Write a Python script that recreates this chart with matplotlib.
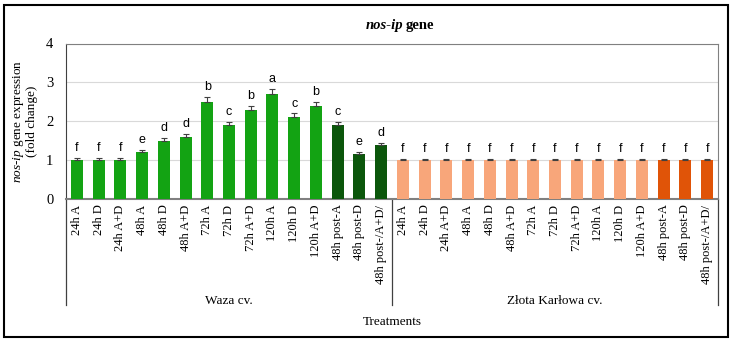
import numpy as np
import matplotlib.pyplot as plt
from matplotlib.patches import Rectangle
import matplotlib.transforms as mtransforms

plt.rcParams['font.family'] = 'Liberation Serif'
plt.rcParams['mathtext.fontset'] = 'custom'
plt.rcParams['mathtext.rm'] = 'Liberation Serif'
plt.rcParams['mathtext.it'] = 'Liberation Serif:italic'
plt.rcParams['mathtext.bf'] = 'Liberation Serif:bold'

# data
treatments = ['24h A', '24h D', '24h A+D', '48h A', '48h D', '48h A+D',
              '72h A', '72h D', '72h A+D', '120h A', '120h D', '120h A+D',
              '48h post-A', '48h post-D', '48h post-/A+D/']
waza_vals = [1.0, 1.0, 1.0, 1.2, 1.5, 1.6, 2.5, 1.9, 2.3, 2.7, 2.1, 2.4, 1.9, 1.15, 1.4]
waza_err = [0.05, 0.05, 0.05, 0.07, 0.07, 0.08, 0.12, 0.08, 0.1, 0.12, 0.1, 0.1, 0.08, 0.05, 0.05]
waza_letters = ['f', 'f', 'f', 'e', 'd', 'd', 'b', 'c', 'b', 'a', 'c', 'b', 'c', 'e', 'd']
zlota_vals = [1.0] * 15
zlota_err = [0.04] * 15
zlota_letters = ['f'] * 15
groups = ['Waza cv.', 'Złota Karłowa cv.']

c_green, c_dgreen = '#13a313', '#0b560b'
c_lorange, c_dorange = '#f8a67a', '#e05408'
colors = [c_green] * 12 + [c_dgreen] * 3 + [c_lorange] * 12 + [c_dorange] * 3

vals = waza_vals + zlota_vals
errs = waza_err + zlota_err
letters = waza_letters + zlota_letters
labels = treatments + treatments
x = np.arange(len(vals))

fig = plt.figure(figsize=(7.33, 3.42), dpi=100)
ax = fig.add_axes([66 / 733, 1 - 199 / 342, (718 - 66) / 733, (199 - 43.5) / 342])

ax.bar(x, vals, width=0.55, color=colors, zorder=3)
ax.errorbar(x, vals, yerr=[np.zeros(len(errs)), errs], fmt='none', ecolor='#404040',
            elinewidth=0.8, capsize=2.5, capthick=0.8, zorder=4)
for xi, v, e, l in zip(x, vals, errs, letters):
    ax.text(xi, v + e + 0.1, l, ha='center', va='bottom', fontsize=9,
            family='Liberation Sans', zorder=5)

ax.set_xlim(-0.5, len(vals) - 0.5)
ax.set_ylim(0, 4)
ax.set_yticks([0, 1, 2, 3, 4])
ax.yaxis.grid(True, color='#d9d9d9', lw=0.8, zorder=0)
ax.tick_params(axis='y', length=0, labelsize=10.5, pad=9)
ax.set_xticks(x)
ax.set_xticklabels(labels, rotation=90, fontsize=9)
ax.tick_params(axis='x', length=0, pad=4)
for s in ['top', 'right']:
    ax.spines[s].set_color('#808080')
    ax.spines[s].set_linewidth(0.8)
ax.spines['left'].set_color('#404040')
ax.spines['left'].set_linewidth(0.8)
ax.spines['bottom'].set_color('#808080')
ax.spines['bottom'].set_linewidth(1.5)

ax.set_ylabel(r'$\it{nos}$-$\it{ip}$ gene expression' + '\n(fold change)', fontsize=9.5,
              labelpad=6, linespacing=1.0)

# category group lines and labels
trans = mtransforms.blended_transform_factory(ax.transData, ax.transAxes)
for xl in [-0.5, 14.5, 29.5]:
    ax.plot([xl, xl], [0, -0.68], color='#404040', lw=0.9, transform=trans, clip_on=False)
ax.text(7, -0.655, groups[0], ha='center', va='center', fontsize=9.5, transform=trans)
ax.text(22, -0.655, groups[1], ha='center', va='center', fontsize=9.5, transform=trans)
ax.text(14.5, -0.79, 'Treatments', ha='center', va='center', fontsize=9.5, transform=trans)

# title
fig.text(403 / 733, 1 - 25 / 342, 'nos-ip', ha='right', va='center', fontsize=10.5,
         style='italic', weight='bold')
fig.text(406 / 733, 1 - 25 / 342, 'gene', ha='left', va='center', fontsize=10.5, weight='bold')

# outer border
fig.patches.append(Rectangle((4 / 733, 5 / 342), 724 / 733, 332 / 342, transform=fig.transFigure,
                             fill=False, edgecolor='black', lw=1.5))

fig.savefig('out.png', dpi=100)
